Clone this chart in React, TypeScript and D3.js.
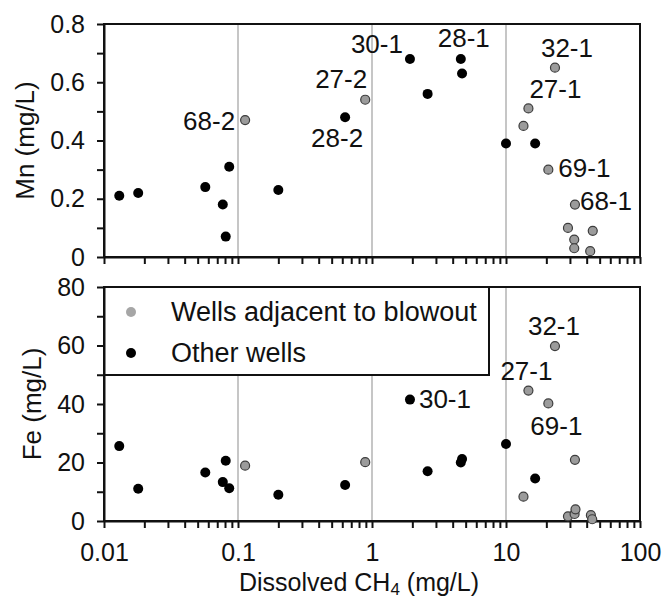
import { Component } from 'react';
import * as React from 'react';
import * as d3 from 'd3';

// Mn panel (mg/L) vs dissolved CH4 (mg/L)
const mnOtherCH4 = [0.013, 0.018, 0.057, 0.077, 0.081, 0.086, 0.2, 0.63, 1.92, 2.6, 4.6, 4.7, 10, 16.5];
const mnOther = [0.21, 0.22, 0.24, 0.18, 0.07, 0.31, 0.23, 0.48, 0.68, 0.56, 0.68, 0.63, 0.39, 0.39];
const mnAdjCH4 = [0.113, 0.89, 13.5, 14.7, 20.7, 23.2, 29, 32.3, 32.3, 32.7, 42.5, 44.4];
const mnAdj = [0.47, 0.54, 0.45, 0.51, 0.3, 0.65, 0.1, 0.06, 0.03, 0.18, 0.02, 0.09];

// Fe panel (mg/L)
const feOtherCH4 = [0.013, 0.018, 0.057, 0.077, 0.081, 0.086, 0.2, 0.63, 1.92, 2.6, 4.6, 4.7, 10, 16.5];
const feOther = [25.6, 11, 16.6, 13.3, 20.6, 11.2, 9, 12.3, 41.5, 17, 20, 21.2, 26.3, 14.5];
const feAdjCH4 = [0.113, 0.89, 13.5, 14.7, 20.7, 23.2, 29, 32.5, 33, 32.7, 43, 44];
const feAdj = [18.9, 20.1, 8.3, 44.6, 40.2, 59.8, 1.6, 2.4, 4.0, 20.9, 2.0, 0.6];

// well labels
const mnLabelNames = ['68-2', '27-2', '28-2', '30-1', '28-1', '32-1', '27-1', '69-1', '68-1'];
const mnLabelCH4 = [0.113, 0.89, 0.63, 1.92, 4.6, 23.2, 14.7, 20.7, 32.7];
const mnLabelVals = [0.47, 0.54, 0.48, 0.68, 0.68, 0.65, 0.51, 0.3, 0.18];
const feLabelNames = ['32-1', '27-1', '30-1', '69-1'];
const feLabelCH4 = [23.2, 14.7, 1.92, 20.7];
const feLabelVals = [59.8, 44.6, 41.5, 40.2];

const xTickLabels = ['0.01', '0.1', '1', '10', '100'];
const legendNames = ['Wells adjacent to blowout', 'Other wells'];

// label placement relative to point: [dx, dy, anchor]
const mnLabelPos: [number, number, string][] = [
  [-10, 10, 'end'], [2, -12, 'end'], [18, 30, 'end'], [-7, -6, 'end'], [3, -12, 'middle'],
  [12, -11, 'middle'], [27, -10, 'middle'], [10, 7.5, 'start'], [5, 5.5, 'start'],
];
const feLabelPos: [number, number, string][] = [
  [-1, -11, 'middle'], [-2, -10.5, 'middle'], [9, 8.5, 'start'], [8, 31.5, 'middle'],
];

const FONT = '"Liberation Sans", Arial, sans-serif';

class Chart extends Component<{}, {}> {
  node: SVGSVGElement | null = null;

  componentDidMount() {
    this.createChart();
  }

  createChart() {
    if (!this.node) return;
    const svg = d3.select(this.node);
    svg.selectAll('*').remove();

    const left = 104, right = 640;
    const x = d3.scaleLog().domain([0.01, 100]).range([left, right]);
    const yMn = d3.scaleLinear().domain([0, 0.8]).range([257, 24]);
    const yFe = d3.scaleLinear().domain([0, 80]).range([521, 287]);

    const minorTicks: number[] = [];
    for (let e = -2; e < 2; e++) {
      for (let m = 1; m < 10; m++) minorTicks.push(m * Math.pow(10, e));
    }
    minorTicks.push(100);

    const panel = (y: d3.ScaleLinear<number, number>, yStep: number, showX: boolean,
      otherX: number[], otherY: number[], adjX: number[], adjY: number[],
      names: string[], lx: number[], ly: number[], pos: [number, number, string][],
      title: string, titleX: number, legend: boolean) => {
      const g = svg.append('g');
      const [y0, y1] = y.range();

      // vertical gridlines at decades
      g.selectAll('line.grid').data([0.1, 1, 10]).enter().append('line')
        .attr('x1', d => x(d)).attr('x2', d => x(d))
        .attr('y1', y0).attr('y2', y1)
        .attr('stroke', '#b3b3b3').attr('stroke-width', 1.5);

      if (legend) {
        const lg = g.append('g');
        lg.append('rect')
          .attr('x', left).attr('y', y1).attr('width', 385).attr('height', 88)
          .attr('fill', 'white').attr('stroke', '#111').attr('stroke-width', 2);
        legendNames.forEach((n, i) => {
          lg.append('circle').attr('cx', 131).attr('cy', y1 + 25 + i * 41).attr('r', 5)
            .attr('fill', i === 0 ? '#a6a6a6' : '#000');
          lg.append('text').attr('x', 171).attr('y', y1 + 34 + i * 41)
            .attr('font-size', 27).attr('font-family', FONT).attr('fill', '#111').text(n);
        });
      }

      // frame
      g.append('rect').attr('x', left).attr('y', y1).attr('width', right - left).attr('height', y0 - y1)
        .attr('fill', 'none').attr('stroke', '#111').attr('stroke-width', 2);

      const yTicks = d3.range(0, y.domain()[1] + yStep / 20, yStep / 2);
      const yAxis = d3.axisLeft(y).tickValues(yTicks).tickSize(7).tickSizeOuter(0).tickPadding(12)
        .tickFormat((d, i) => (i % 2 === 0 ? d3.format('~g')(d as number) : ''));
      const ya = g.append('g').attr('transform', `translate(${left},0)`).call(yAxis);

      const xAxis = d3.axisBottom(x).tickValues(minorTicks).tickSize(7).tickSizeOuter(0).tickPadding(15)
        .tickFormat(d => {
          if (!showX) return '';
          const k = xTickLabels.indexOf(String(d));
          return k >= 0 ? xTickLabels[k] : '';
        });
      const xa = g.append('g').attr('transform', `translate(0,${y0})`).call(xAxis);

      [ya, xa].forEach(a => {
        a.select('.domain').attr('stroke', '#111').attr('stroke-width', 2);
        a.selectAll('.tick line').attr('stroke', '#111').attr('stroke-width', 2);
        a.selectAll('.tick text').attr('font-size', 25).attr('font-family', FONT).attr('fill', '#111');
      });

      g.selectAll('circle.other').data(otherX).enter().append('circle')
        .attr('cx', d => x(d)).attr('cy', (d, i) => y(otherY[i])).attr('r', 5).attr('fill', '#000');
      g.selectAll('circle.adj').data(adjX).enter().append('circle')
        .attr('cx', d => x(d)).attr('cy', (d, i) => y(adjY[i])).attr('r', 4.5)
        .attr('fill', '#9b9b9b').attr('stroke', '#3c3c3c').attr('stroke-width', 1.2);

      g.selectAll('text.lbl').data(names).enter().append('text')
        .attr('x', (d, i) => x(lx[i]) + pos[i][0]).attr('y', (d, i) => y(ly[i]) + pos[i][1])
        .attr('text-anchor', (d, i) => pos[i][2])
        .attr('font-size', 26).attr('font-family', FONT).attr('fill', '#111').text(d => d);

      g.append('text')
        .attr('transform', `translate(${titleX},${(y0 + y1) / 2}) rotate(-90)`)
        .attr('text-anchor', 'middle').attr('dy', '0.35em')
        .attr('font-size', 26).attr('font-family', FONT).attr('fill', '#111').text(title);
    };

    panel(yMn, 0.2, false, mnOtherCH4, mnOther, mnAdjCH4, mnAdj,
      mnLabelNames, mnLabelCH4, mnLabelVals, mnLabelPos, 'Mn (mg/L)', 25, false);
    panel(yFe, 20, true, feOtherCH4, feOther, feAdjCH4, feAdj,
      feLabelNames, feLabelCH4, feLabelVals, feLabelPos, 'Fe (mg/L)', 32, true);

    const xt = svg.append('text').attr('x', 359).attr('y', 591).attr('text-anchor', 'middle')
      .attr('font-size', 25).attr('font-family', FONT).attr('fill', '#111');
    xt.append('tspan').text('Dissolved CH');
    xt.append('tspan').attr('font-size', 17).attr('dy', 4).text('4');
    xt.append('tspan').attr('dy', -4).text(' (mg/L)');
  }

  render() {
    return <svg ref={node => { this.node = node; }} width={664} height={600}
      style={{ position: 'absolute', left: 0, top: 0, background: 'white' }} />;
  }
}

export default function App() {
  return <Chart />;
}
